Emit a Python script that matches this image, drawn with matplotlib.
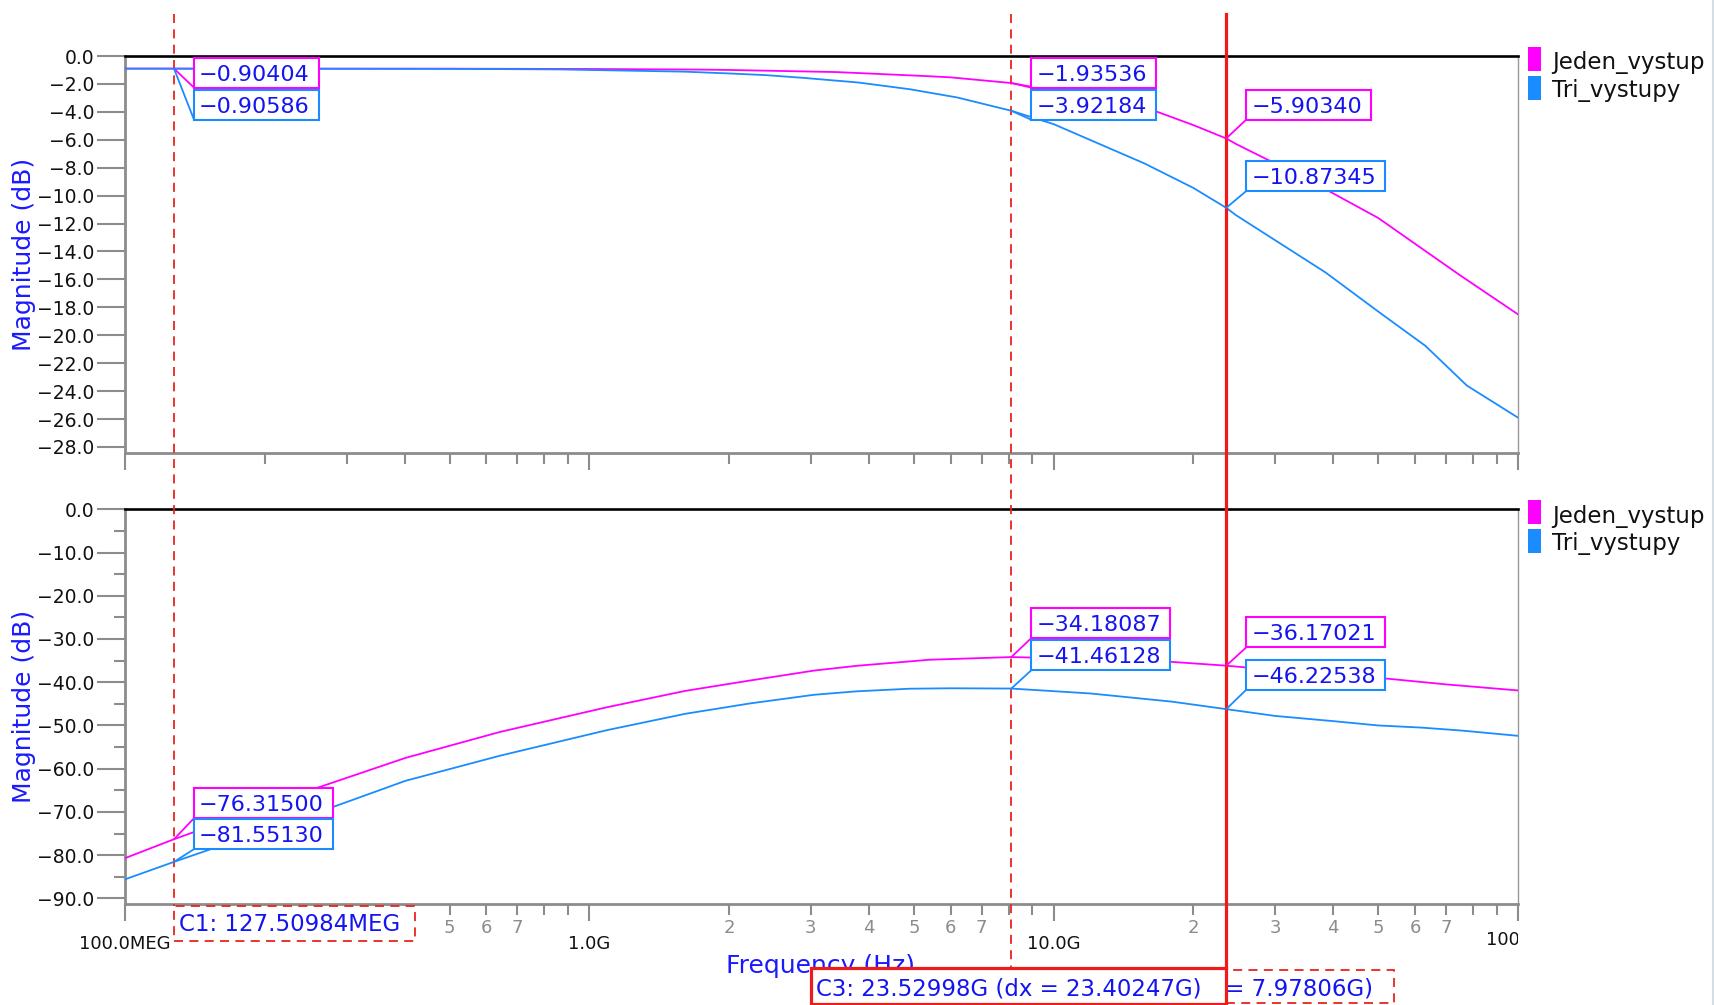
import numpy as np
import matplotlib
matplotlib.use("Agg")
import matplotlib.pyplot as plt
from matplotlib.lines import Line2D
from matplotlib.patches import Rectangle
from matplotlib.transforms import blended_transform_factory, Bbox, TransformedBbox

# ---------------- data (frequency in GHz, magnitude in dB) ----------------
series_names = ["Jeden_vystup", "Tri_vystupy"]

top_jeden_f = [0.1, 0.12751, 0.5, 1.0, 1.7, 2.0, 3.4, 4.1, 5.4, 6.0, 8.10557, 10, 12, 16.5,
               20, 23.52998, 24.7, 30, 38.5, 50, 59.5, 75, 100]
top_jeden_v = [-0.90, -0.90404, -0.91, -0.93, -0.97, -1.00, -1.15, -1.27, -1.45, -1.53, -1.93536,
               -2.5, -3.0, -3.93, -4.95, -5.90340, -6.3, -7.7, -9.54, -11.6, -13.36, -15.7, -18.5]

top_tri_f = [0.1, 0.12751, 0.5, 0.86, 1.0, 1.6, 2.0, 2.4, 2.9, 3.8, 4.9, 6.2, 8.10557, 10,
             15.7, 20, 23.52998, 24.7, 38.5, 50, 63.2, 77.6, 100]
top_tri_v = [-0.906, -0.90586, -0.92, -0.96, -1.0, -1.12, -1.25, -1.37, -1.57, -1.9, -2.38,
             -2.97, -3.92184, -4.88, -7.7, -9.45, -10.87345, -11.4, -15.5, -18.3, -20.76, -23.6, -25.9]

bot_jeden_f = [0.1, 0.12751, 0.255, 0.402, 0.642, 1.09, 1.61, 2.22, 3.05, 3.77, 5.4, 8.10557,
               12, 18, 23.52998, 30, 40, 52.6, 70, 100]
bot_jeden_v = [-80.7, -76.315, -64.7, -57.5, -51.5, -45.8, -42.0, -39.6, -37.3, -36.2, -34.8,
               -34.18087, -34.6, -35.3, -36.17021, -37.2, -38.2, -39.2, -40.5, -41.9]

bot_tri_f = [0.1, 0.12751, 0.27, 0.402, 0.642, 1.09, 1.61, 2.22, 3.05, 3.77, 4.9, 6.0, 8.10557,
             12, 18, 23.52998, 30, 40, 50, 62, 76, 100]
bot_tri_v = [-85.6, -81.5513, -69.5, -62.8, -57.0, -51.1, -47.3, -44.9, -42.9, -42.1, -41.5,
             -41.4, -41.46128, -42.6, -44.5, -46.22538, -47.8, -49.0, -50.0, -50.5, -51.2, -52.4]

# cursors (GHz)
cursor_names = ["C1", "C2", "C3"]
cursor_f = [0.12750984, 8.10557, 23.52998]
cursor_text = ["C1: 127.50984MEG", "C2: 8.10557G (dx = 7.97806G)", "C3: 23.52998G (dx = 23.40247G)"]

# marker values shown at cursors [cursor][series]
top_marks = [[-0.90404, -0.90586], [-1.93536, -3.92184], [-5.90340, -10.87345]]
bot_marks = [[-76.31500, -81.55130], [-34.18087, -41.46128], [-36.17021, -46.22538]]

top_yticks = list(range(0, -29, -2))
bot_yticks = list(range(0, -91, -10))
x_major = [1e8, 1e9, 1e10, 1e11]
x_major_labels = ["100.0MEG", "1.0G", "10.0G", "100.0G"]
x_minor_digits = [2, 3, 4, 5, 6, 7, 8, 9]
x_minor_shown = ["2", "3", "4", "5", "6", "7", "", ""]

# ---------------- style ----------------
W, H = 1715, 1005
plt.rcParams['font.family'] = ['DejaVu Sans']
MAG = '#ff00ff'
BLU = '#1a8cff'
TXTBLUE = '#1414f0'
RED = '#e8231e'
GRAY = '#8c8c8c'
colors = [MAG, BLU]

fig = plt.figure(figsize=(W / 100, H / 100), dpi=100)
fig.patch.set_facecolor('white')


def fx(x):
    return x / W


def fy(y):
    return 1 - y / H


L, R = 125, 1518
ax1 = fig.add_axes([fx(L), fy(453), (R - L) / W, (453 - 56) / H])
ax2 = fig.add_axes([fx(L), fy(904), (R - L) / W, (904 - 509.3) / H])

ax1.plot(np.array(top_jeden_f) * 1e9, top_jeden_v, color=MAG, lw=1.3, zorder=3)
ax1.plot(np.array(top_tri_f) * 1e9, top_tri_v, color=BLU, lw=1.3, zorder=3)
ax2.plot(np.array(bot_jeden_f) * 1e9, bot_jeden_v, color=MAG, lw=1.3, zorder=3)
ax2.plot(np.array(bot_tri_f) * 1e9, bot_tri_v, color=BLU, lw=1.3, zorder=3)

minor_pos = [k * 10 ** d for d in (8, 9, 10) for k in x_minor_digits]
minor_lab = [s for d in (8, 9, 10) for s in x_minor_shown]
# first-decade 2,3,4 labels are hidden behind the C1 cursor box in the reference
minor_lab[0:3] = ["", "", ""]


def fmt(v):
    s = f"{v:.1f}"
    return s.replace('-', '\u2212')


for ax, yt, ylo in ((ax1, top_yticks, -28.43), (ax2, bot_yticks, -91.3)):
    ax.set_xscale('log')
    ax.set_xlim(1e8, 1e11)
    ax.set_ylim(ylo, 0)
    ax.set_yticks(yt, labels=[fmt(v) for v in yt])
    ax.set_xticks(x_major, labels=x_major_labels[:3] + [''])
    ax.set_xticks(minor_pos, labels=minor_lab, minor=True)
    ax.tick_params(axis='y', which='major', length=20, width=1.5, color=GRAY,
                   labelsize=13.5, pad=2, labelcolor='#111111')
    ax.tick_params(axis='y', which='minor', length=8, width=1.5, color=GRAY)
    ax.tick_params(axis='x', which='major', length=12, width=1.5, color=GRAY,
                   labelsize=13, pad=10, labelcolor='#111111')
    ax.tick_params(axis='x', which='minor', length=8, width=1.5, color=GRAY,
                   labelsize=13, pad=3, labelcolor='#8c8c8c')
    for side in ('left', 'bottom'):
        ax.spines[side].set_color(GRAY)
        ax.spines[side].set_linewidth(2.0)
    ax.spines['right'].set_color('#999999')
    ax.spines['right'].set_linewidth(1.0)
    ax.spines['top'].set_color('black')
    ax.spines['top'].set_linewidth(1.9)

ax1.tick_params(axis='x', which='both', labelbottom=False)
ax1.yaxis.set_minor_locator(plt.NullLocator())
ax2.set_yticks(list(range(-5, -91, -10)), minor=True)

# clipped last major label
clipbox = TransformedBbox(Bbox.from_extents(0, 0, fx(R), 1), fig.transFigure)
bl2 = blended_transform_factory(ax2.transData, fig.transFigure)
t = ax2.text(x_major[3], fy(940), x_major_labels[3], transform=bl2, ha='center', va='center',
             fontsize=13, color='#111111')
t.set_clip_box(clipbox)
t.set_clip_on(True)

# axis labels
for ytop, ybot in ((56, 453), (509.3, 904)):
    fig.text(fx(24), fy((ytop + ybot) / 2), "Magnitude (dB)", rotation=90, ha='center',
             va='center', fontsize=18, color='#1a1aff')
fig.text(fx(821), fy(973), "Frequency (Hz)", ha='center', va='baseline', fontsize=18,
         color='#1a1aff', zorder=3)

# legends
for ytop in (56, 509.3):
    for i, name in enumerate(series_names):
        fig.patches.append(Rectangle((fx(1528), fy(ytop - 9 + 13 + i * 29 + 11)), 13 / W, 24 / H,
                                     transform=fig.transFigure, fc=colors[i], ec='none'))
        fig.text(fx(1552), fy(ytop + 7 + i * 27), name, ha='left', va='center',
                 fontsize=16.5, color='#111111')

# cursor lines
cursor_bottom = [906, 970, 968]
bl = blended_transform_factory(ax2.transData, fig.transFigure)
for i, f in enumerate(cursor_f):
    if i == 2:
        ln = Line2D([f * 1e9, f * 1e9], [fy(14), fy(cursor_bottom[i])], transform=bl,
                    color='#f01a1a', lw=2.3, zorder=4)
    else:
        ln = Line2D([f * 1e9, f * 1e9], [fy(14), fy(cursor_bottom[i])], transform=bl,
                    color=RED, lw=1.3, linestyle=(0, (5, 3.5)), zorder=4)
    fig.add_artist(ln)

renderer = fig.canvas.get_renderer()


def text_width(s, size):
    tt = fig.text(0, 0, s, fontsize=size)
    w = tt.get_window_extent(renderer).width
    tt.remove()
    return w


# cursor label boxes
cx = [ax2.transData.transform((f * 1e9, 0))[0] for f in cursor_f]
# C1
w1 = text_width(cursor_text[0], 16.5)
fig.patches.append(Rectangle((fx(cx[0]), fy(941)), (w1 + 20) / W, 35 / H, transform=fig.transFigure,
                             fc='white', ec=RED, lw=1.3, ls=(0, (5, 3.5)), zorder=5))
fig.text(fx(cx[0] + 5), fy(931), cursor_text[0], ha='left', va='baseline', fontsize=16.5,
         color=TXTBLUE, zorder=6)
# C2
w2 = text_width(cursor_text[1], 16.5)
fig.patches.append(Rectangle((fx(cx[1]), fy(1003)), (w2 + 26) / W, 33 / H, transform=fig.transFigure,
                             fc='white', ec=RED, lw=1.3, ls=(0, (5, 3.5)), zorder=5))
fig.text(fx(cx[1] + 5), fy(995), cursor_text[1], ha='left', va='baseline', fontsize=16.5,
         color=TXTBLUE, zorder=6)
# C3
w3 = text_width(cursor_text[2], 16.5)
x3 = cx[2] - (w3 + 30)
fig.patches.append(Rectangle((fx(x3), fy(1004)), (w3 + 30) / W, 36 / H, transform=fig.transFigure,
                             fc='white', ec='#f01a1a', lw=2.3, zorder=7))
fig.text(fx(x3 + 5), fy(995), cursor_text[2], ha='left', va='baseline', fontsize=16.5,
         color=TXTBLUE, zorder=8)

# marker tags: box lower-left = point + (20, dy) in pixels (dy > 0 means above)
top_dy = [[-19, -51], [-4.6, -9], [18.8, 16.8]]
bot_dy = [[21, 12.7], [19, 18.3], [18.3, 19.4]]


def tag(ax, f, v, dy, color):
    px, py = ax.transData.transform((f * 1e9, v))
    x0, y0 = px + 20, py + dy
    s = f"{v:.5f}".replace('-', '\u2212')
    w = text_width(s, 16)
    fig.add_artist(Line2D([px / W, x0 / W], [py / H, y0 / H], transform=fig.transFigure,
                          color=color, lw=1.3, zorder=5))
    fig.patches.append(Rectangle((x0 / W, y0 / H), (w + 14) / W, 30 / H, transform=fig.transFigure,
                                 fc='white', ec=color, lw=1.5, zorder=5))
    fig.text((x0 + 5) / W, (y0 + 7) / H, s, ha='left', va='baseline', fontsize=16,
             color=TXTBLUE, zorder=6)


for ci, f in enumerate(cursor_f):
    for si in range(2):
        tag(ax1, f, top_marks[ci][si], top_dy[ci][si], colors[si])
        tag(ax2, f, bot_marks[ci][si], bot_dy[ci][si], colors[si])

# light right border
fig.add_artist(Line2D([fx(1713), fx(1713)], [0, 1], transform=fig.transFigure, color='#d5dde5', lw=1.5))

fig.savefig("out.png", dpi=100, facecolor='white')
